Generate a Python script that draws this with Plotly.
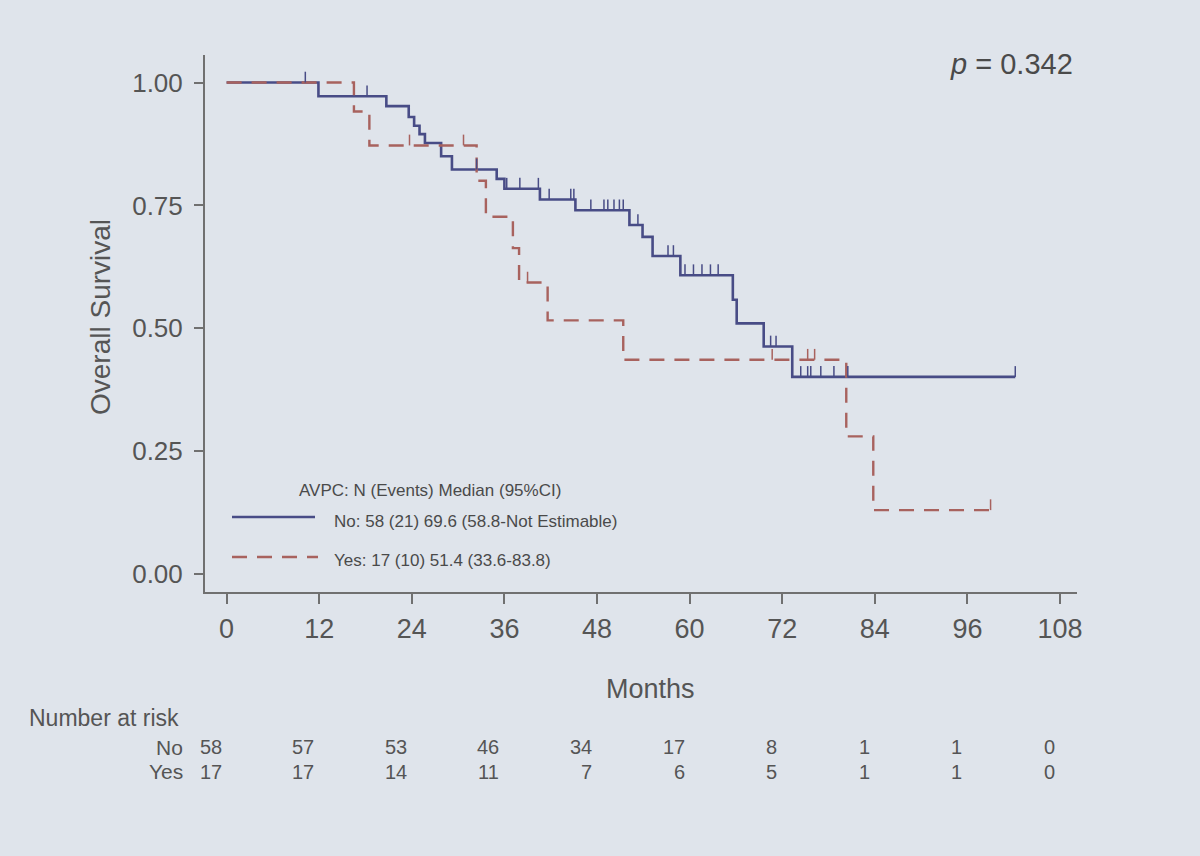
import plotly.graph_objects as go

# ---------------- data ----------------
# AVPC = No  (solid blue)
no_times = [0, 11.9, 20.7, 23.6, 24.3, 25.0, 25.7, 27.8, 29.2, 35.0, 36.0, 40.6, 45.2,
            52.2, 53.9, 55.2, 58.8, 65.6, 66.1, 69.6, 73.3, 102.2]
no_surv = [1.0, 0.972, 0.952, 0.930, 0.912, 0.895, 0.877, 0.850, 0.823, 0.804, 0.784, 0.762, 0.740,
           0.710, 0.686, 0.647, 0.608, 0.558, 0.510, 0.463, 0.401, 0.401]
no_censor = [10.2, 18.2, 32.4, 36.3, 38.0, 40.4, 41.8, 44.6, 45.0, 47.2, 48.9, 49.4, 50.2, 50.9,
             51.4, 53.3, 57.2, 57.9, 59.4, 60.5, 61.6, 62.7, 63.7, 70.5, 71.2, 74.4, 75.3, 75.7,
             77.0, 78.7, 80.5, 102.2]

# AVPC = Yes (dashed red)
yes_times = [0, 16.5, 18.5, 32.4, 33.6, 37.1, 37.9, 41.6, 51.4, 80.3, 83.8, 99.0]
yes_surv = [1.0, 0.941, 0.872, 0.800, 0.727, 0.663, 0.593, 0.516, 0.436, 0.280, 0.130, 0.130]
yes_censor = [23.7, 30.7, 39.0, 70.7, 75.3, 76.2, 99.0]

x_ticks = [0, 12, 24, 36, 48, 60, 72, 84, 96, 108]
y_ticks = [0.0, 0.25, 0.5, 0.75, 1.0]
risk_no = [58, 57, 53, 46, 34, 17, 8, 1, 1, 0]
risk_yes = [17, 17, 14, 11, 7, 6, 5, 1, 1, 0]

legend_title = "AVPC: N (Events) Median (95%CI)"
legend_no = "No: 58 (21) 69.6 (58.8-Not Estimable)"
legend_yes = "Yes: 17 (10) 51.4 (33.6-83.8)"
p_text = "<i>p</i> = 0.342"

# ---------------- styling ----------------
BG = "#dfe4eb"
BLUE = "#484c86"
RED = "#a8625e"
TXT = "#555555"
AX = "#707070"
FONT = "Liberation Sans, Arial, sans-serif"


def step_value(times, surv, t):
    v = surv[0]
    for ti, si in zip(times, surv):
        if ti <= t:
            v = si
    return v


fig = go.Figure()

fig.add_trace(go.Scatter(x=no_times, y=no_surv, mode="lines", line=dict(color=BLUE, width=2.6, shape="hv"),
                         showlegend=False, hoverinfo="skip"))
fig.add_trace(go.Scatter(x=yes_times, y=yes_surv, mode="lines",
                         line=dict(color=RED, width=2.4, shape="hv", dash="15px,10px"),
                         showlegend=False, hoverinfo="skip"))

# censor ticks (upward marks)
for times, surv, cens, col in [(no_times, no_surv, no_censor, BLUE), (yes_times, yes_surv, yes_censor, RED)]:
    fig.add_trace(go.Scatter(
        x=cens, y=[step_value(times, surv, c) for c in cens], mode="markers",
        marker=dict(size=1, color=col, opacity=0),
        error_y=dict(type="data", array=[0.022] * len(cens), arrayminus=[0] * len(cens),
                     color=col, thickness=1.5, width=0, symmetric=False),
        showlegend=False, hoverinfo="skip"))

L, R, T, B = 205, 123, 55, 264
W, H = 1200, 856
pw, ph = W - L - R, H - T - B


def px(x):
    return (x - L) / pw


def py(y):
    return (H - B - y) / ph


fig.update_layout(
    width=W, height=H,
    margin=dict(l=L, r=R, t=T, b=B, pad=0),
    paper_bgcolor=BG, plot_bgcolor=BG,
    font=dict(family=FONT, color=TXT),
    showlegend=False,
)

fig.update_xaxes(range=[-2.8, 110.2], tickvals=x_ticks, ticktext=[str(v) for v in x_ticks],
                 showline=True, linecolor=AX, linewidth=2, ticks="outside", ticklen=10, tickwidth=2,
                 tickcolor=AX, tickfont=dict(size=27, color=TXT, family=FONT), showgrid=False,
                 zeroline=False, ticklabelstandoff=2)
fig.update_yaxes(range=[-0.0366, 1.056], tickvals=y_ticks, ticktext=[f"{v:.2f}" for v in y_ticks],
                 showline=True, linecolor=AX, linewidth=2, ticks="outside", ticklen=9, tickwidth=2,
                 tickcolor=AX, tickfont=dict(size=26, color=TXT, family=FONT), showgrid=False,
                 zeroline=False, ticklabelstandoff=6)

ann = []
ann.append(dict(text="Months", x=px(650), y=py(689), xref="paper", yref="paper", showarrow=False,
                font=dict(size=27, color=TXT), xanchor="center", yanchor="middle"))
ann.append(dict(text="Overall Survival", x=px(100), y=py(317), xref="paper", yref="paper",
                showarrow=False, textangle=-90, font=dict(size=28, color=TXT),
                xanchor="center", yanchor="middle"))
ann.append(dict(text=p_text, x=px(1075), y=py(64), xref="paper", yref="paper", showarrow=False,
                font=dict(size=29, color="#4a4a4a"), xanchor="right", yanchor="middle"))

# legend inside plot
LEG = 17
ann.append(dict(text=legend_title, x=px(297), y=py(490), xref="paper", yref="paper", showarrow=False,
                font=dict(size=LEG, color="#4a4a4a"), xanchor="left", yanchor="middle"))
ann.append(dict(text=legend_no, x=px(332), y=py(521), xref="paper", yref="paper", showarrow=False,
                font=dict(size=LEG, color="#4a4a4a"), xanchor="left", yanchor="middle"))
ann.append(dict(text=legend_yes, x=px(332), y=py(560), xref="paper", yref="paper", showarrow=False,
                font=dict(size=LEG, color="#4a4a4a"), xanchor="left", yanchor="middle"))

shapes = [
    dict(type="line", xref="paper", yref="paper", x0=px(232), x1=px(315), y0=py(517), y1=py(517),
         line=dict(color=BLUE, width=2.6)),
    dict(type="line", xref="paper", yref="paper", x0=px(232), x1=px(318), y0=py(557), y1=py(557),
         line=dict(color=RED, width=2.4, dash="15px,10px")),
]

# number at risk table
ann.append(dict(text="Number at risk", x=px(27), y=py(718), xref="paper", yref="paper",
                showarrow=False, font=dict(size=23, color=TXT), xanchor="left", yanchor="middle"))
ann.append(dict(text="No", x=px(185), y=py(747), xref="paper", yref="paper", showarrow=False,
                font=dict(size=21, color=TXT), xanchor="right", yanchor="middle"))
ann.append(dict(text="Yes", x=px(185), y=py(772), xref="paper", yref="paper", showarrow=False,
                font=dict(size=21, color=TXT), xanchor="right", yanchor="middle"))
for t, n_no, n_yes in zip(x_ticks, risk_no, risk_yes):
    ann.append(dict(text=str(n_no), x=t, y=py(747), xref="x", yref="paper", showarrow=False,
                    font=dict(size=20, color=TXT), xanchor="right", yanchor="middle", xshift=-3))
    ann.append(dict(text=str(n_yes), x=t, y=py(772), xref="x", yref="paper", showarrow=False,
                    font=dict(size=20, color=TXT), xanchor="right", yanchor="middle", xshift=-3))

fig.update_layout(annotations=ann, shapes=shapes)

fig.write_html("out.html")
